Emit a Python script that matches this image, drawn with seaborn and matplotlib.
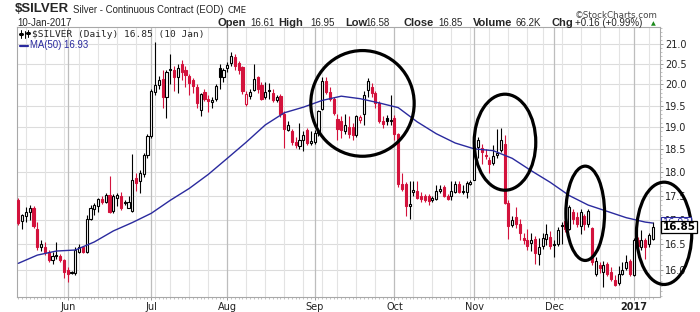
import numpy as np
import pandas as pd
import matplotlib
matplotlib.use("Agg")
import matplotlib.pyplot as plt
import seaborn as sns
from matplotlib.patches import Ellipse
from matplotlib.lines import Line2D
from matplotlib.ticker import FixedLocator, NullFormatter, FormatStrFormatter
from matplotlib.transforms import blended_transform_factory

# ---------------- data ----------------
start_date = "2016-05-12"
end_date = "2017-01-10"
holidays = ["2016-05-30", "2016-07-04", "2016-09-05", "2016-11-24", "2016-12-26", "2017-01-02"]

opens = [
    17.40, 16.98, 17.08, 17.16, 17.24, 16.80, 16.44, 16.44, 16.36, 16.19,
    16.28, 16.28, 16.19, 16.00, 15.94, 15.95, 16.36, 16.45, 16.36, 17.02,
    17.22, 17.29, 17.43, 17.36, 17.52, 17.18, 17.45, 17.48, 17.37, 17.24,
    17.17, 17.88, 17.80, 17.96, 18.37, 18.80, 19.82, 19.98, 20.14, 19.70,
    20.35, 20.35, 20.19, 20.50, 20.35, 20.20, 20.10, 19.95, 19.40, 19.83,
    19.66, 19.58, 19.66, 20.39, 20.19, 20.39, 20.51, 20.66, 20.52, 20.42,
    19.53, 19.72, 19.87, 20.17, 19.98, 19.70, 19.87, 19.80, 19.63, 19.73,
    19.30, 18.94, 18.90, 18.67, 18.57, 18.70, 18.93, 18.64, 18.66, 18.86,
    19.42, 20.08, 19.82, 19.66, 19.19, 19.15, 18.91, 19.00, 19.00, 18.82,
    19.17, 19.30, 19.86, 19.94, 19.79, 19.56, 19.15, 19.22, 19.14, 19.22,
    18.84, 17.75, 17.75, 17.28, 17.57, 17.60, 17.48, 17.48, 17.48, 17.40,
    17.43, 17.59, 17.68, 17.50, 17.48, 17.57, 17.75, 17.60, 17.57, 17.75,
    17.84, 18.55, 18.52, 18.38, 18.27, 18.19, 18.38, 18.48, 18.62, 17.35,
    16.89, 17.05, 16.92, 16.63, 16.58, 16.53, 16.61, 16.32, 16.46, 16.61,
    16.64, 16.50, 16.51, 16.90, 16.98, 16.80, 17.15, 17.05, 16.87, 17.08,
    16.92, 16.82, 15.93, 16.09, 15.96, 16.11, 15.96, 15.81, 15.75, 15.93,
    16.03, 16.18, 15.90, 16.58, 16.44, 16.58, 16.50, 16.61]

highs = [
    17.45, 17.12, 17.25, 17.30, 17.28, 16.95, 16.58, 16.55, 16.40, 16.35,
    16.55, 16.32, 16.22, 16.05, 15.98, 16.45, 16.50, 16.47, 17.10, 17.30,
    17.35, 17.45, 17.48, 17.55, 17.91, 17.53, 17.55, 17.58, 17.40, 17.50,
    18.40, 17.98, 18.05, 18.42, 18.85, 19.90, 21.05, 20.20, 20.35, 20.35,
    20.74, 20.45, 20.50, 20.60, 20.45, 20.25, 20.15, 20.00, 19.80, 19.90,
    19.75, 19.70, 20.00, 20.50, 20.40, 20.55, 20.80, 20.75, 20.58, 20.45,
    19.85, 19.90, 20.50, 20.20, 20.05, 20.05, 20.03, 19.90, 19.75, 19.76,
    19.36, 19.15, 18.95, 18.78, 19.10, 18.92, 18.97, 18.92, 18.93, 19.40,
    20.17, 20.17, 19.95, 19.70, 19.30, 19.25, 19.30, 19.25, 19.10, 19.28,
    19.28, 19.85, 20.15, 20.03, 19.85, 19.60, 19.25, 19.27, 19.75, 19.27,
    18.86, 17.97, 17.79, 17.80, 17.80, 17.80, 17.57, 17.53, 17.53, 17.48,
    17.73, 17.72, 17.72, 17.54, 17.80, 17.80, 17.80, 17.73, 17.80, 17.84,
    18.70, 18.78, 18.62, 18.50, 18.32, 18.60, 18.95, 18.98, 18.83, 17.40,
    17.08, 17.25, 17.02, 16.72, 16.80, 16.72, 16.67, 16.63, 16.72, 16.91,
    16.77, 16.58, 16.84, 16.95, 17.03, 17.30, 17.22, 17.15, 17.22, 17.12,
    17.22, 16.86, 16.25, 16.15, 16.18, 16.15, 16.05, 15.90, 16.08, 16.15,
    16.30, 16.22, 16.62, 16.65, 16.78, 16.62, 16.72, 16.95]

lows = [
    16.90, 16.80, 16.95, 17.00, 16.82, 16.40, 16.38, 16.30, 16.15, 16.12,
    16.22, 16.16, 15.85, 15.78, 15.92, 15.90, 16.34, 16.33, 16.34, 17.00,
    17.10, 17.15, 17.32, 17.35, 17.14, 17.14, 17.28, 17.20, 17.30, 17.24,
    17.15, 17.60, 17.55, 17.90, 18.30, 18.75, 19.75, 19.90, 19.45, 19.20,
    20.00, 19.85, 19.80, 20.10, 19.95, 19.75, 19.80, 19.45, 19.25, 19.60,
    19.35, 19.45, 19.60, 19.90, 20.05, 20.30, 20.45, 20.35, 20.25, 19.78,
    19.50, 19.65, 19.85, 19.80, 19.62, 19.65, 19.66, 19.58, 19.58, 19.23,
    18.52, 18.90, 18.60, 18.52, 18.50, 18.47, 18.60, 18.60, 18.62, 18.80,
    19.40, 19.78, 19.60, 19.28, 18.70, 18.75, 18.85, 18.75, 18.70, 18.78,
    19.10, 19.05, 19.70, 19.70, 19.45, 19.10, 18.97, 19.05, 19.05, 18.70,
    17.68, 17.60, 17.07, 17.02, 17.48, 17.43, 17.37, 17.37, 17.31, 17.37,
    17.40, 17.55, 17.47, 17.40, 17.40, 17.55, 17.55, 17.53, 17.45, 17.72,
    17.82, 18.30, 18.18, 18.28, 17.98, 18.15, 18.30, 18.43, 17.32, 16.60,
    16.85, 16.82, 16.58, 16.50, 16.40, 16.38, 16.12, 16.10, 16.42, 16.48,
    16.42, 16.25, 16.46, 16.50, 16.75, 16.78, 16.92, 16.85, 16.70, 16.78,
    16.85, 16.10, 15.88, 15.95, 15.67, 15.88, 15.80, 15.70, 15.72, 15.90,
    16.00, 15.88, 15.88, 16.25, 16.40, 16.22, 16.45, 16.58]

closes = [
    16.93, 17.09, 17.16, 17.24, 16.88, 16.45, 16.50, 16.36, 16.19, 16.28,
    16.30, 16.19, 15.96, 15.92, 15.96, 16.39, 16.45, 16.35, 17.02, 17.24,
    17.31, 17.43, 17.37, 17.52, 17.16, 17.50, 17.51, 17.24, 17.35, 17.36,
    17.82, 17.76, 17.98, 18.37, 18.80, 19.84, 19.98, 20.10, 19.70, 20.30,
    20.38, 20.19, 20.39, 20.30, 20.23, 20.04, 19.96, 19.57, 19.78, 19.66,
    19.60, 19.63, 19.96, 20.19, 20.34, 20.47, 20.69, 20.45, 20.34, 19.85,
    19.78, 19.82, 20.13, 19.90, 19.66, 19.82, 19.85, 19.62, 19.71, 19.30,
    18.96, 19.04, 18.67, 18.60, 18.70, 18.81, 18.63, 18.68, 18.86, 19.36,
    20.09, 19.82, 19.66, 19.32, 18.96, 18.93, 19.04, 18.84, 18.82, 19.25,
    19.23, 19.74, 20.08, 19.79, 19.56, 19.14, 19.08, 19.15, 19.17, 18.84,
    17.75, 17.64, 17.28, 17.33, 17.62, 17.45, 17.43, 17.40, 17.39, 17.45,
    17.60, 17.64, 17.50, 17.43, 17.60, 17.75, 17.57, 17.58, 17.76, 17.79,
    18.55, 18.70, 18.44, 18.35, 18.17, 18.36, 18.42, 18.71, 17.35, 16.88,
    17.00, 16.92, 16.72, 16.58, 16.46, 16.58, 16.33, 16.44, 16.63, 16.71,
    16.46, 16.48, 16.78, 16.88, 16.80, 17.25, 17.02, 16.92, 17.15, 16.92,
    17.17, 16.16, 16.18, 16.03, 16.09, 15.93, 15.83, 15.72, 15.93, 16.00,
    16.15, 15.93, 16.58, 16.46, 16.58, 16.45, 16.69, 16.85]

# 50-day moving average, read at every 5th trading day
ma_day = [0, 5, 10, 15, 20, 25, 30, 35, 40, 45, 50, 55, 60, 65, 70, 75, 80, 85,
          90, 95, 100, 105, 110, 115, 120, 125, 130, 135, 140, 145, 150, 155,
          160, 165, 167]
ma_vals = [16.13, 16.29, 16.37, 16.39, 16.55, 16.77, 16.94, 17.13, 17.40, 17.65,
           17.95, 18.30, 18.66, 19.05, 19.33, 19.46, 19.62, 19.72, 19.66, 19.56,
           19.45, 19.12, 18.85, 18.64, 18.51, 18.47, 18.30, 18.03, 17.78, 17.50,
           17.30, 17.17, 17.04, 16.95, 16.93]

price_ticks = [16.0, 16.5, 17.0, 17.5, 18.0, 18.5, 19.0, 19.5, 20.0, 20.5, 21.0]
month_labels = ["Jun", "Jul", "Aug", "Sep", "Oct", "Nov", "Dec", "2017"]

last_close = 16.85
last_ma = 16.93

# ---------------- figure ----------------
sns.set_theme(style="white")
plt.rcParams["font.family"] = ["DejaVu Sans"]

W, H = 700, 312
fig = plt.figure(figsize=(W / 100, H / 100), dpi=100)
fig.patch.set_facecolor("white")
AX_L, AX_R, AX_T, AX_B = 17, 660, 27, 297
ax = fig.add_axes([AX_L / W, 1 - AX_B / H, (AX_R - AX_L) / W, (AX_B - AX_T) / H])
ax.set_facecolor("white")

dates = pd.bdate_range(start_date, end_date, freq="C", holidays=holidays)
o = np.array(opens); h = np.array(highs); l = np.array(lows); c = np.array(closes)
n = len(c)
dates = dates[:n]
x = np.arange(n)

ax.set_yscale("log")
ax.set_xlim(-0.35, n + 0.9)
ax.set_ylim(15.49, 21.43)

# grid: horizontal price lines, weekly and monthly vertical lines
for p in price_ticks:
    ax.axhline(p, color="#dcdcdc", lw=0.8, zorder=0)
month_start = [i for i in range(1, n) if dates[i].month != dates[i - 1].month]
week_start = [i for i in range(1, n)
              if dates[i].isocalendar().week != dates[i - 1].isocalendar().week
              and i not in month_start]
ax.vlines(week_start, 15.0, 22.0, colors="#e3e3e3", lw=0.8, zorder=0)
ax.vlines(month_start, 15.0, 22.0, colors="#bdbdbd", lw=0.9, zorder=0)

# candles (stockcharts style: red if close < previous close, filled if close < open)
RED = "#d3123c"
prev = np.r_[o[0], c[:-1]]
cols = np.where(c < prev, RED, "black")
filled = c < o
body_lo = np.minimum(o, c)
body_h = np.maximum(np.abs(c - o), 0.012)
ax.vlines(x, np.minimum(l, body_lo), np.maximum(h, body_lo + body_h),
          colors=cols, lw=0.8, zorder=3)
ax.bar(x, body_h, bottom=body_lo, width=0.55,
       color=np.where(filled, cols, "white"), edgecolor=cols,
       linewidth=0.8, zorder=4)

# moving average
sns.lineplot(x=ma_day, y=ma_vals, ax=ax, color="#2a2a9e", lw=1.0, zorder=5)

# axes styling
for sp in ax.spines.values():
    sp.set_color("#a8a8a8")
    sp.set_linewidth(0.8)
ax.yaxis.tick_right()
ax.yaxis.set_major_locator(FixedLocator(price_ticks))
ax.yaxis.set_major_formatter(FormatStrFormatter("%.1f"))
ax.yaxis.set_minor_locator(FixedLocator(np.arange(15.5, 21.45, 0.1)))
ax.yaxis.set_minor_formatter(NullFormatter())
ax.tick_params(axis="y", which="major", length=2, width=0.6, color="#888888",
               pad=1.5, labelsize=7, labelcolor="#222222", left=False, right=True)
ax.tick_params(axis="y", which="minor", length=1.2, width=0.5, color="#aaaaaa",
               left=False, right=True)
ax.set_xticks(month_start)
ax.set_xticklabels(month_labels)
ax.set_xticks(x, minor=True)
ax.tick_params(axis="x", which="major", length=2, width=0.6, color="#888888",
               pad=1.5, labelsize=7, labelcolor="#222222", bottom=True)
ax.tick_params(axis="x", which="minor", length=1.5, width=0.5, color="#aaaaaa",
               bottom=True)
for lbl in ax.get_xticklabels():
    if lbl.get_text() == "2017":
        lbl.set_fontweight("bold")
ax.set_xlabel("")
ax.set_ylabel("")
if ax.get_legend():
    ax.get_legend().remove()

# annotation ellipses (axes fraction: cx, cy, w, h)
ellipses = [(0.5373, 0.7170, 0.1608, 0.3915),
            (0.7589, 0.5733, 0.0958, 0.3556),
            (0.8837, 0.3100, 0.0602, 0.3493),
            (1.0064, 0.2358, 0.0860, 0.3789)]
for cx, cy, ew, eh in ellipses:
    ax.add_patch(Ellipse((cx, cy), ew, eh, transform=ax.transAxes, fill=False,
                         lw=2.3, ec="black", clip_on=False, zorder=7))

# price / MA boxes on the right axis
tr = blended_transform_factory(ax.transAxes, ax.transData)
ax.text(1.004, last_ma, f"{last_ma:.2f}", transform=tr, ha="left", va="center",
        fontsize=7, color="#2a2a9e", zorder=8,
        bbox=dict(boxstyle="square,pad=0.12", fc="white", ec="#2a2a9e", lw=0.8))
ax.text(1.004, last_close, f"{last_close:.2f}", transform=tr, ha="left", va="center",
        fontsize=7.5, fontweight="bold", color="black", zorder=9,
        bbox=dict(boxstyle="square,pad=0.12", fc="white", ec="black", lw=0.9))


# ---------------- header and legend text ----------------
def ftxt(px, py, s, **kw):
    kw.setdefault("ha", "left")
    kw.setdefault("va", "center")
    fig.text(px / W, 1 - py / H, s, **kw)


HF = ["Liberation Sans", "DejaVu Sans"]
ftxt(15, 9.5, "$SILVER", fontsize=9.5, fontweight="bold", family=HF)
ftxt(73, 10, "Silver - Continuous Contract (EOD)", fontsize=6.9, family=HF)
ftxt(227, 10.5, "CME", fontsize=6.3, family=["DejaVu Sans"])
ftxt(658, 16, "\u00a9StockCharts.com", fontsize=6.3, color="#444444", ha="right",
     family=["DejaVu Sans"])
ftxt(17, 23, "10-Jan-2017", fontsize=7, family=HF)

header_pairs = [("Open", 218, "16.61", 250), ("High", 278, "16.95", 310),
                ("Low", 345, "16.58", 365), ("Close", 404, "16.85", 438),
                ("Volume", 473, "66.2K", 515), ("Chg", 552, "+0.16 (+0.99%)", 575)]
for lab, lx, val, vx in header_pairs:
    ftxt(lx, 23, lab, fontsize=8, fontweight="bold", family=HF)
    ftxt(vx, 23.5, val, fontsize=7, family=HF)
ftxt(651, 23.5, "\u25b2", fontsize=4.5, color="#1a8a1a", family=["DejaVu Sans"])

# legend icon (small candles)
fx = lambda v: v / W
fy = lambda v: 1 - v / H
fig.add_artist(Line2D([fx(21), fx(21)], [fy(30), fy(38)], color="black", lw=0.7))
fig.add_artist(Line2D([fx(25), fx(25)], [fy(31), fy(38)], color="black", lw=0.7))
fig.add_artist(Line2D([fx(28), fx(28)], [fy(30), fy(37)], color="black", lw=0.7))
fig.add_artist(Line2D([fx(20), fx(22)], [fy(34), fy(34)], color="black", lw=2.2))
fig.add_artist(Line2D([fx(27), fx(29)], [fy(33), fy(33)], color="black", lw=2.2))
ftxt(32, 34.5, "$SILVER (Daily) 16.85 (10 Jan)", fontsize=6.8,
     family=["DejaVu Sans Mono"])
fig.add_artist(Line2D([fx(20), fx(28)], [fy(45.5), fy(45.5)], color="#2a2a9e", lw=1.6))
ftxt(30, 45.5, "MA(50) 16.93", fontsize=6.9, color="#2a2a9e", family=HF)

fig.savefig("out.png", dpi=100)
